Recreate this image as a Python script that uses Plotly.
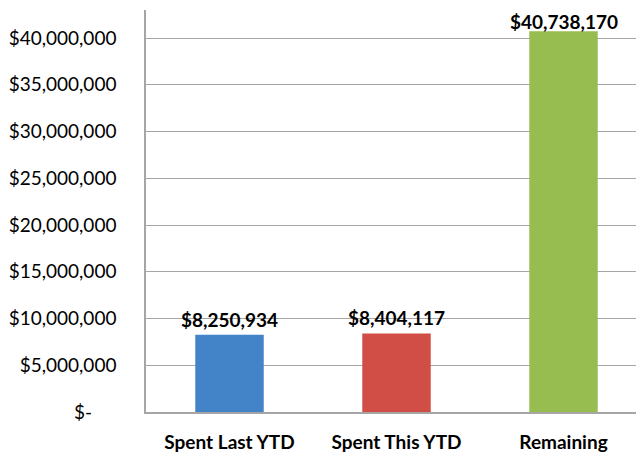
import plotly.graph_objects as go

categories = ["Spent Last YTD", "Spent This YTD", "Remaining"]
amounts = [8250934, 8404117, 40738170]
bar_colors = ["#4384c9", "#d04e45", "#97bd51"]
label_shift = [2, 2, -4]

tick_vals = [0, 5000000, 10000000, 15000000, 20000000, 25000000, 30000000, 35000000, 40000000]
tick_text = ["$-" + "\u00a0" * 5] + ["${:,.0f}".format(v) for v in tick_vals[1:]]

labels = ["${:,.0f}".format(v) for v in amounts]

fig = go.Figure(data=[go.Bar(
    x=categories,
    y=amounts,
    marker=dict(color=bar_colors, line=dict(width=0)),
    width=0.41,
)])

for cat, val, lab, sh in zip(categories, amounts, labels, label_shift):
    fig.add_annotation(
        x=cat, y=val, text=lab, showarrow=False,
        yanchor="bottom", yshift=sh,
        font=dict(family="Lato", size=19, color="black", weight="bold"),
    )

# page body adds an 8px offset, so the figure is drawn 8px smaller
fig.update_layout(
    width=639,
    height=447,
    margin=dict(l=138, r=0, t=2, b=43),
    plot_bgcolor="white",
    paper_bgcolor="white",
    showlegend=False,
    font=dict(family="Lato", size=19, color="black"),
    bargap=0.59,
)
fig.update_yaxes(
    range=[0, 43000000],
    tickvals=tick_vals,
    ticktext=tick_text,
    showgrid=True,
    gridcolor="#a6a6a6",
    gridwidth=1,
    showline=True,
    linecolor="#a6a6a6",
    linewidth=1.5,
    zeroline=False,
    ticks="",
    automargin=False,
    ticklabelstandoff=24,
    tickfont=dict(family="Lato", size=19),
)
fig.update_xaxes(
    showline=True,
    linecolor="#a6a6a6",
    linewidth=1.5,
    ticks="",
    automargin=False,
    tickfont=dict(family="Lato", size=19, weight="bold"),
    ticklabelstandoff=12,
)

fig.write_html("out.html")
